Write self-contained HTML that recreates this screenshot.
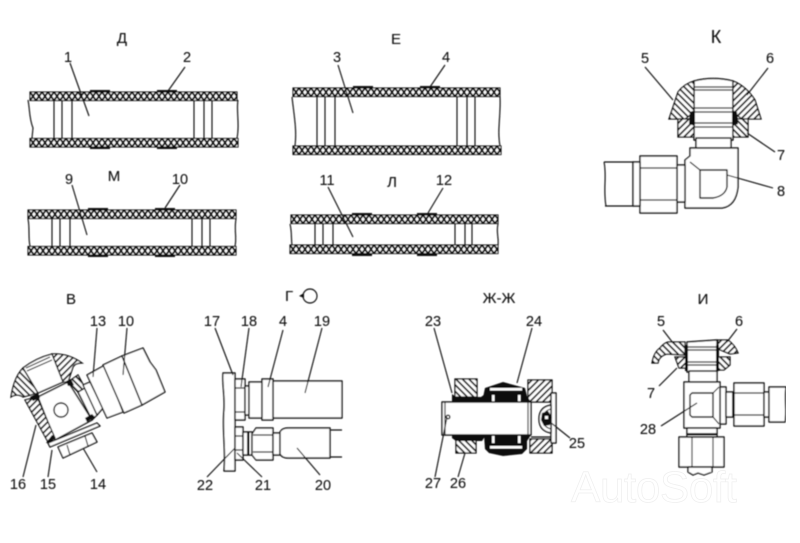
<!DOCTYPE html>
<html><head><meta charset="utf-8">
<style>
html,body{margin:0;padding:0;background:#fff;width:800px;height:543px;overflow:hidden}
svg{display:block}
text{font-family:"Liberation Sans",sans-serif;fill:#111;text-anchor:middle;stroke:#111;stroke-width:.1}
.n{font-size:14.5px}
.t{font-size:15px}
.l{fill:none;stroke:#111;stroke-width:1.15}
.s{fill:#fff;stroke:#111;stroke-width:1.4;stroke-linejoin:round}
.h{fill:url(#ha);stroke:#111;stroke-width:1.3}
.h2{fill:url(#hb);stroke:#111;stroke-width:1.3}
.b{fill:#111;stroke:none}
.x{fill:url(#mesh);stroke:#111;stroke-width:1.1}
.w{fill:#fff;stroke:none}
</style></head><body>
<svg width="800" height="543" viewBox="0 0 800 543" xmlns="http://www.w3.org/2000/svg">
<defs>
<pattern id="mesh" width="6" height="8.5" patternUnits="userSpaceOnUse">
<rect width="6" height="8.5" fill="#fff"/>
<path d="M-1 -1.4L7 9.9M7 -1.4L-1 9.9" stroke="#111" stroke-width="2"/>
</pattern>
<pattern id="ha" width="4.6" height="4.6" patternUnits="userSpaceOnUse" patternTransform="rotate(45)">
<rect width="4.6" height="4.6" fill="#fff"/><rect width="4.6" height="1.7" fill="#111"/>
</pattern>
<pattern id="hb" width="4.6" height="4.6" patternUnits="userSpaceOnUse" patternTransform="rotate(-45)">
<rect width="4.6" height="4.6" fill="#fff"/><rect width="4.6" height="1.7" fill="#111"/>
</pattern>
<filter id="soft" x="0" y="0" width="100%" height="100%"><feGaussianBlur stdDeviation="0.4"/></filter>
</defs>
<rect width="800" height="543" fill="#fff"/>
<text x="654" y="502" textLength="166" style="font-size:44px;fill:#fff;stroke:#eeeeee;stroke-width:.7">AutoSoft</text>
<g filter="url(#soft)">

<!-- Д tube -->
<path class="l" d="M28 100C30 110 29 118 33 128L32 138M238 100C236 110 240 125 237 138"/>
<rect class="x" transform="translate(30 92)" width="207" height="8.500"/>
<rect class="x" transform="translate(30 138.500)" width="208" height="8.500"/>
<path class="b" d="M90 90h20v2h-20zM157 90h20v2h-20zM90 147h20v2h-20zM157 147h20v2h-20z"/>
<path class="l" d="M54 100V138M62 100V138M72 100V138M194 100V138M204 100V138M212 100V138"/>
<!-- Е tube -->
<path class="l" d="M292 97C294 115 297 130 295 146M500 97C501 115 497 130 500 146"/>
<rect class="x" transform="translate(293 88)" width="207" height="8.500"/>
<rect class="x" transform="translate(293 146)" width="208" height="8.500"/>
<path class="b" d="M353 86h20v2h-20zM420 86h20v2h-20z"/>
<path class="l" d="M317 97V146M325 97V146M335 97V146M457 97V146M467 97V146M475 97V146"/>
<!-- М tube -->
<path class="l" d="M28 219C30 228 28 238 30 246M236 219C234 230 237 238 235 246"/>
<rect class="x" transform="translate(28 210)" width="208" height="8.500"/>
<rect class="x" transform="translate(28 246.500)" width="208" height="8.500"/>
<path class="b" d="M88 208h20v2h-20zM155 208h20v2h-20zM88 255h20v2h-20zM155 255h20v2h-20z"/>
<path class="l" d="M52 219V246M60 219V246M70 219V246M192 219V246M202 219V246M210 219V246"/>
<!-- Л tube -->
<path class="l" d="M290 224C292 232 291 238 292 245M498 224C496 232 499 238 498 245"/>
<rect class="x" transform="translate(291 215)" width="207" height="8.500"/>
<rect class="x" transform="translate(290 245)" width="208" height="8.500"/>
<path class="b" d="M352 213h20v2h-20zM417 213h20v2h-20zM352 254h20v2h-20zM417 254h20v2h-20z"/>
<path class="l" d="M315 224V245M323 224V245M333 224V245M455 224V245M465 224V245M472 224V245"/>

<!-- tube leaders -->
<path class="l" d="M70 63L89 116M185 67L168 91M338 65L353 113M445 65L430 87M72 185L87 235M180 185L165 208M328 187L353 237M443 188L428 213"/>

<!-- К -->
<path class="s" d="M694 81Q713 76 733 81V140H694Z"/>
<path class="h" d="M669 119L678 92Q684 84 694 81V112L685 119Z"/>
<path class="h2" d="M761 119L755 100Q746 86 733 81V112L742 119Z"/>
<path class="h2" d="M678 119H694V137H678Z"/>
<path class="h" d="M733 119H748V137H733Z"/>
<path class="l" d="M694 87H733M694 90H733M694 108H733M694 112H733M694 123H733M694 127H733M694 140H733"/>
<path class="b" d="M690 112L695 110V126L689 124ZM737 112L732 110V126L738 124Z"/>
<path class="s" d="M696 138H731V148H696Z"/>
<path class="s" d="M690 148H738V187Q736 206 722 208H685V160L690 156Z"/>
<path class="s" d="M700 170H727V187Q725 196 713 198H700Z"/>
<path class="s" d="M677 165H685V202H677Z"/>
<path class="s" d="M640 156H677V213H640Z"/>
<path class="l" d="M640 168H677M640 200H677"/>
<path class="s" d="M633 162H640V206H633Z"/>
<path class="l" d="M604 162H633V206H605M604 162C607 175 603 190 606 206"/>
<path class="l" d="M645 67L673 100M768 68L747 95M775 152L747 133M773 188L727 175M690 162L700 170"/>

<!-- В -->
<path class="s" d="M38 397L68 382L92 420L55 440Z"/>
<path class="h" d="M11 397Q14 377 23 368L38 393L23 397Q17 393 11 397Z"/>
<path class="h2" d="M52 354Q68 353 82 363Q75 363 73 367L68 382L63 382Z"/>
<path class="s" d="M23 368Q36 358 52 354L63 382L38 393Z"/>
<path class="l" d="M26 368L50 357M27 371L52 360"/>
<path class="h2" d="M25 400L37 397L55 438L48 442Z"/>
<path class="s" d="M58 447L92 433L97 442L63 458Z"/>
<path class="l" d="M67 445L70 455M85 436L88 446"/>
<path class="s" d="M48 443L97 423L100 426L50 447Z"/>
<path class="h" d="M68 382L78 375L85 388L78 392Z"/>
<path class="s" d="M78 392L85 388L97 415L92 420Z"/>
<path class="s" d="M83 385L90 382L103 408L97 415Z"/>
<path class="s" d="M87 375L105 365L123 412L107 418Z"/>
<path class="s" d="M103 365L122 356L142 405L124 413Z"/>
<path class="s" d="M122 356L143 348L150 362L156 370L165 392L142 405Z"/>
<circle class="s" cx="61" cy="410" r="7"/>
<path class="b" d="M30 397L38 393L40 398L33 401ZM66 381L71 379L74 385L68 386ZM85 418L92 414L95 417L87 422ZM52 435L55 438L50 443L46 443Z"/>
<path class="l" d="M97 328L93 377M127 328L123 375M36 425L23 477M52 450L48 477M83 448L97 472"/>

<!-- Г -->
<path class="s" d="M223 373H235V471H224C226 450 222 430 224 410C225 395 222 385 223 373Z"/>
<path class="s" d="M235 379H245V420H235Z"/>
<path class="l" d="M235 388H245M235 412H245"/>
<path class="s" d="M245 386H249V415H245Z"/>
<path class="s" d="M249 382H262V418H249Z"/>
<path class="s" d="M273 381H342V418H273Z"/>
<path class="s" d="M262 379H273V420H262Z"/>
<path class="s" d="M235 427H243V460H235Z"/>
<path class="l" d="M235 436H243M235 450H243"/>
<path class="s" d="M243 432H252V455H243Z"/>
<path class="b" d="M247 432h2.500v23h-2.500z"/>
<path class="s" d="M252 434L256 428H273V460H256L252 455Z"/>
<path class="l" d="M253 435H273M253 452H273"/>
<path class="s" d="M273 433H280V455H273Z"/>
<path class="s" d="M280 432Q282 428 288 428H330V458H288Q282 458 280 454Z"/>
<path class="l" d="M330 430H342M330 457H342"/>
<path class="l" d="M215 328L233 375M249 328L241 387M283 330L268 387M322 328L305 393M207 477L235 448M262 477L237 453M320 475L297 448"/>
<circle class="l" cx="310" cy="296" r="7"/>
<path class="b" d="M299 296l5 -3v5z"/>

<!-- Ж-Ж -->
<path class="h" d="M455 379H477V397H455Z"/>
<path class="h" d="M456 439H476V453H456Z"/>
<path class="h2" d="M528 380H552V402H528Z"/>
<path class="h2" d="M530 439H552V453H530Z"/>
<path class="b" d="M452 394L456 397H481L485 394L488 402H452ZM452 435H486L482 441H456L452 438Z"/>
<path class="b" d="M485 388L503 382L525 388L527 396L531 402H482ZM484 435H531L527 441V449L522 454L503 456L489 453L485 449Z"/>
<path class="w" d="M490 388h32v2.500h-32zM490 446h32v2.500h-32zM492 395h2.500v7h-2.500zM518 395h2.500v7h-2.500zM492 436h2.500v7h-2.500zM518 436h2.500v7h-2.500z"/>
<path class="s" d="M442 402H531V435H442Z"/>
<path class="l" d="M445 402V435M528 402V435"/>
<circle class="s" cx="448" cy="417" r="1.800"/>
<path class="l" d="M531 402H551M531 437H551"/>
<path class="s" d="M551 393H556V443H551Z"/>
<path class="s" d="M551 405Q539 407 539 419Q539 431 551 433Z"/>
<path class="l" d="M551 409Q543 411 543 419Q543 427 551 429"/>
<path class="b" d="M542 413l6 -2l4 6l-2 8l-6 1l-3 -6z"/>
<path class="w" d="M545 416h3v3h-3z"/>
<path class="l" d="M434 328L452 393M532 328L517 383M570 438L550 422M435 477L447 417M458 477L465 453"/>

<!-- И -->
<path class="s" d="M687 342L717 340V372H687Z"/>
<path class="l" d="M687 347H717M687 350H717M687 362H717M687 365H717"/>
<path class="h" d="M652 363Q654 352 660 348Q664 343 668 342H685V355L667 354Q659 356 658 363Z"/>
<path class="h2" d="M718 340H728Q735 345 738 353L730 354L718 349Z"/>
<path class="h2" d="M675 357H687V368H679Z"/>
<path class="h" d="M718 357H730V365L724 370H718Z"/>
<path class="b" d="M685 345h3v26h-3zM716 345h3v26h-3z"/>
<path class="s" d="M689 371H717V382H689Z"/>
<path class="s" d="M720 387H726V424H720Z"/>
<path class="s" d="M684 382H720V428H684Z"/>
<path class="s" d="M692 393H713V417H692L690 415V395Z"/>
<path class="l" d="M713 393L719 387M713 417L719 424"/>
<path class="s" d="M726 392H734V417H726Z"/>
<path class="b" d="M732 392h2.500v25h-2.500z"/>
<path class="s" d="M734 383H764V426H734Z"/>
<path class="l" d="M734 393H764M734 415H764"/>
<path class="s" d="M764 392H769V417H764Z"/>
<path class="s" d="M769 387H786C784 398 787 410 785 422H769Z"/>
<path class="s" d="M687 428H717V437H687Z"/>
<path class="b" d="M687 433h30v2.500h-30z"/>
<path class="s" d="M679 437H724V467H679Z"/>
<path class="l" d="M692 437V467M713 437V467"/>
<path class="s" d="M688 467H712V472L704 475L698 473L693 475L688 472Z"/>
<path class="l" d="M663 330L673 343M737 329L727 342M659 386L677 368M661 426L697 403"/>

<!-- Titles -->
<text class="t" x="122" y="43">Д</text>
<text class="t" x="396" y="44">Е</text>
<text class="t" x="716" y="43" style="font-size:18px">К</text>
<text class="t" x="114" y="181">М</text>
<text class="t" x="392" y="187">Л</text>
<text class="t" x="71" y="304">В</text>
<text class="t" x="289" y="301">Г</text>
<text class="t" x="499" y="303">Ж-Ж</text>
<text class="t" x="703" y="304">И</text>

<!-- Numbers -->
<text class="n" x="68" y="62">1</text>
<text class="n" x="187" y="62">2</text>
<text class="n" x="337" y="62">3</text>
<text class="n" x="446" y="62">4</text>
<text class="n" x="645" y="63">5</text>
<text class="n" x="770" y="63">6</text>
<text class="n" x="781" y="160">7</text>
<text class="n" x="781" y="196">8</text>
<text class="n" x="69" y="184">9</text>
<text class="n" x="180" y="184">10</text>
<text class="n" x="327" y="185">11</text>
<text class="n" x="444" y="185">12</text>
<text class="n" x="98" y="326">13</text>
<text class="n" x="126" y="326">10</text>
<text class="n" x="18" y="489">16</text>
<text class="n" x="48" y="489">15</text>
<text class="n" x="98" y="489">14</text>
<text class="n" x="212" y="326">17</text>
<text class="n" x="249" y="326">18</text>
<text class="n" x="283" y="326">4</text>
<text class="n" x="322" y="326">19</text>
<text class="n" x="205" y="490">22</text>
<text class="n" x="263" y="490">21</text>
<text class="n" x="323" y="490">20</text>
<text class="n" x="433" y="326">23</text>
<text class="n" x="534" y="326">24</text>
<text class="n" x="577" y="448">25</text>
<text class="n" x="433" y="488">27</text>
<text class="n" x="458" y="488">26</text>
<text class="n" x="661" y="326">5</text>
<text class="n" x="739" y="326">6</text>
<text class="n" x="651" y="398">7</text>
<text class="n" x="648" y="434">28</text>
</g>
</svg>
</body></html>
